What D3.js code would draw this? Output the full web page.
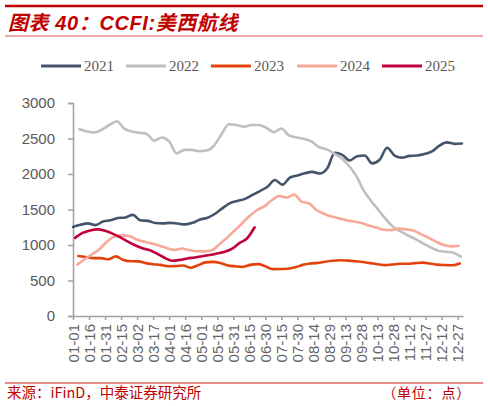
<!DOCTYPE html>
<html>
<head>
<meta charset="utf-8">
<script src="https://cdn.jsdelivr.net/npm/d3@7"></script>
<style>
  html, body { margin: 0; padding: 0; background: #fff; }
  svg { display: block; }
</style>
</head>
<body>
<svg id="chart" width="488" height="406"></svg>
<script>
// ---- Data (weekly CCFI US West Coast route index, points) ----
const seriesNames = ["2021", "2022", "2023", "2024", "2025"];
const seriesColors = ["#44546a", "#bfbfbf", "#e2430c", "#f7a999", "#c2003c"];
// first weekly release date of each year (day-of-year offset, 0 = Jan 1)
const startDay = [0, 6, 5, 4, 2];

const v2021 = [1254, 1285, 1305, 1280, 1330, 1348, 1380, 1388, 1425, 1348, 1340, 1310, 1305, 1312,
  1302, 1290, 1312, 1360, 1385, 1440, 1520, 1590, 1620, 1650, 1705, 1760, 1820, 1915, 1850, 1950,
  1980, 2010, 2030, 2006, 2080, 2300, 2270, 2190, 2250, 2260, 2150, 2200, 2370, 2260, 2230, 2255,
  2260, 2280, 2320, 2400, 2445, 2425, 2430];
const v2022 = [2630, 2600, 2585, 2625, 2690, 2742, 2640, 2600, 2580, 2565, 2470, 2515, 2460, 2290,
  2340, 2340, 2320, 2330, 2400, 2560, 2700, 2690, 2665, 2690, 2690, 2650, 2590, 2640, 2545, 2515,
  2495, 2460, 2380, 2350, 2290, 2225, 2120, 1975, 1770, 1620, 1490, 1360, 1250, 1190, 1130, 1080,
  1020, 965, 920, 905, 890, 835];
const v2023 = [845, 830, 815, 815, 800, 840, 790, 772, 770, 745, 730, 720, 700, 702, 712, 680, 715,
  755, 762, 745, 712, 700, 692, 720, 730, 700, 660, 662, 665, 685, 720, 740, 748, 765, 778, 785,
  780, 772, 760, 745, 730, 716, 725, 735, 735, 745, 752, 740, 724, 718, 714, 740];
const v2024 = [724, 800, 870, 945, 1050, 1120, 1135, 1125, 1075, 1045, 1020, 990, 955, 932, 950, 925,
  912, 910, 925, 1010, 1100, 1200, 1300, 1405, 1490, 1545, 1630, 1690, 1668, 1710, 1610, 1585, 1490,
  1440, 1400, 1375, 1350, 1330, 1310, 1275, 1245, 1215, 1210, 1230, 1220, 1200, 1150, 1100, 1045,
  1000, 980, 990];
const v2025 = [1100, 1170, 1205, 1220, 1200, 1160, 1110, 1050, 996, 955, 925, 875, 817, 778, 790, 810,
  825, 842, 858, 880, 905, 950, 1030, 1095, 1250];
const seriesValues = [v2021, v2022, v2023, v2024, v2025];

const yTicks = [0, 500, 1000, 1500, 2000, 2500, 3000];
const xTickDays = [0, 15, 30, 45, 60, 75, 90, 105, 120, 135, 150, 165, 180, 195, 210, 225, 240, 255,
  270, 285, 300, 315, 330, 345, 360];
const xTickLabels = ["01-01", "01-16", "01-31", "02-15", "03-02", "03-17", "04-01", "04-16", "05-01",
  "05-16", "05-31", "06-15", "06-30", "07-15", "07-30", "08-14", "08-29", "09-13", "09-28", "10-13",
  "10-28", "11-12", "11-27", "12-12", "12-27"];

const titleText = "图表 40：CCFI:美西航线";
const sourceText = "来源：iFinD，中泰证券研究所";
const unitText = "（单位：点）";

// ---- Drawing ----
const svg = d3.select("#chart");
const red = "#c00000";
const axisColor = "#a0a0a0";
const textGray = "#595959";

// header
svg.append("line").attr("x1", 5).attr("x2", 483).attr("y1", 6).attr("y2", 6)
  .attr("stroke", red).attr("stroke-width", 2.5);
svg.append("text").attr("x", 8).attr("y", 30)
  .attr("font-family", "'Liberation Sans', 'Noto Sans CJK SC', sans-serif")
  .attr("font-size", 20).attr("font-weight", "bold").attr("font-style", "italic")
  .attr("letter-spacing", 0.6)
  .attr("fill", red).text(titleText);
svg.append("line").attr("x1", 5).attr("x2", 483).attr("y1", 36).attr("y2", 36)
  .attr("stroke", "#d9534f").attr("stroke-width", 1.2);

const x = d3.scaleLinear().domain([0, 365]).range([73, 463]);
const y = d3.scaleLinear().domain([0, 3000]).range([316, 103]);

// y axis
const yAxis = d3.axisLeft(y).tickValues(yTicks).tickSize(5).tickPadding(13).tickFormat(d3.format("d"));
const gy = svg.append("g").attr("transform", `translate(${x(0)},0)`).call(yAxis);
gy.select(".domain").attr("stroke", axisColor).attr("stroke-width", 1.5);
gy.selectAll(".tick line").attr("stroke", axisColor).attr("stroke-width", 1.5);
gy.selectAll(".tick text").attr("fill", textGray)
  .attr("font-family", "'Liberation Sans', Arial, sans-serif").attr("font-size", 15);

// x axis
const xAxis = d3.axisBottom(x).tickValues(xTickDays).tickSize(4).tickSizeOuter(0)
  .tickFormat((d, i) => xTickLabels[i]);
const gx = svg.append("g").attr("transform", `translate(0,${y(0)})`).call(xAxis);
gx.select(".domain").attr("stroke", axisColor).attr("stroke-width", 1.5);
gx.selectAll(".tick line").attr("stroke", axisColor).attr("stroke-width", 1.5);
gx.selectAll(".tick text")
  .attr("fill", "#666666")
  .attr("font-family", "'Liberation Sans', Arial, sans-serif").attr("font-size", 15)
  .attr("text-anchor", "end")
  .attr("transform", "rotate(-90)")
  .attr("x", -8).attr("y", 0).attr("dy", "0.35em");

// lines
const line = d3.line()
  .x(d => x(d[0])).y(d => y(d[1]))
  .curve(d3.curveMonotoneX);

seriesValues.forEach((vals, si) => {
  const pts = vals.map((v, i) => [startDay[si] + 7 * i, v]);
  svg.append("path").datum(pts)
    .attr("fill", "none").attr("stroke", seriesColors[si])
    .attr("stroke-width", 2.6).attr("stroke-linejoin", "round").attr("stroke-linecap", "round")
    .attr("d", line);
});

// legend
const legX = [41, 126, 211, 297, 382];
const lg = svg.append("g");
seriesNames.forEach((n, i) => {
  lg.append("line").attr("x1", legX[i]).attr("x2", legX[i] + 40).attr("y1", 66).attr("y2", 66)
    .attr("stroke", seriesColors[i]).attr("stroke-width", 3);
  lg.append("text").attr("x", legX[i] + 43).attr("y", 71)
    .attr("font-family", "'Liberation Serif', 'Times New Roman', serif").attr("font-size", 15)
    .attr("fill", textGray).text(n);
});

// footer
svg.append("line").attr("x1", 5).attr("x2", 483).attr("y1", 383).attr("y2", 383)
  .attr("stroke", "#e06666").attr("stroke-width", 1.5);
svg.append("text").attr("x", 7).attr("y", 398)
  .attr("font-family", "'Noto Sans CJK SC', sans-serif").attr("font-size", 14.5)
  .attr("fill", red).text(sourceText);
svg.append("text").attr("x", 471).attr("y", 398).attr("text-anchor", "end")
  .attr("font-family", "'Noto Sans CJK SC', sans-serif").attr("font-size", 14)
  .attr("letter-spacing", 0.8)
  .attr("fill", red).text(unitText);
</script>
</body>
</html>
